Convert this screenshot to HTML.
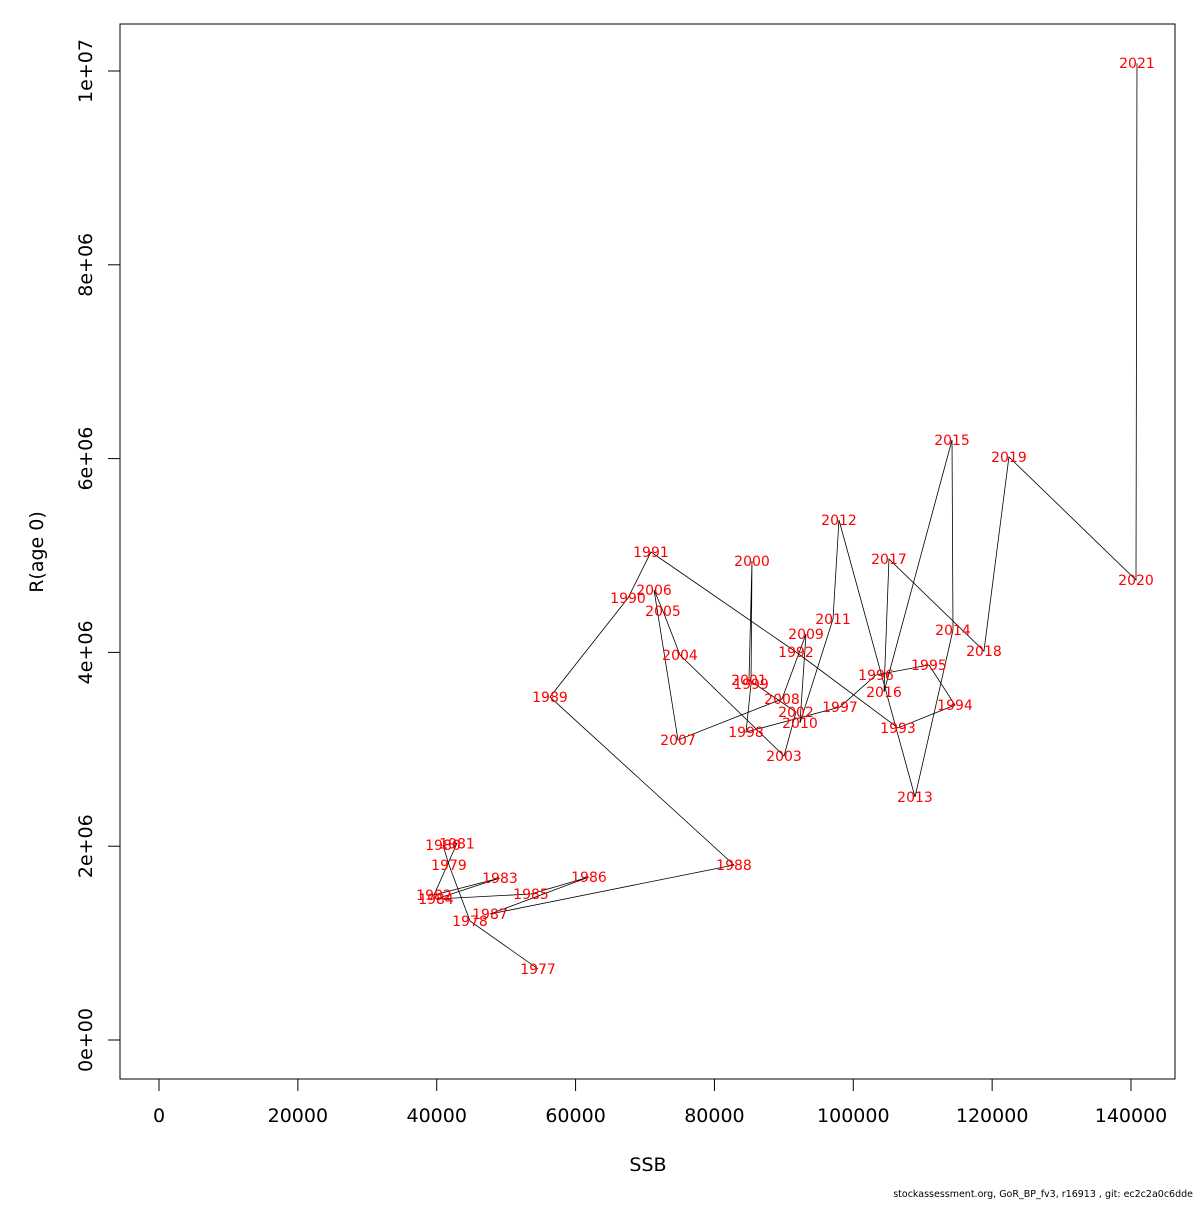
<!DOCTYPE html>
<html><head><meta charset="utf-8"><style>
body{margin:0;background:#fff}
text{font-family:"DejaVu Sans","Liberation Sans",sans-serif}
</style></head><body>
<svg id="chart" width="1200" height="1200">
<rect x="0" y="0" width="1200" height="1200" fill="#fff"/>
<rect x="120" y="24" width="1055" height="1055" fill="none" stroke="#000" stroke-width="1"/>
<g id="axes"></g>
<polyline id="path" fill="none" stroke="#000" stroke-width="0.8"/>
<g id="labels"></g>
<text x="648" y="1171" font-size="19" text-anchor="middle">SSB</text>
<text x="43" y="552" font-size="19" text-anchor="middle" transform="rotate(-90 43 552)">R(age 0)</text>
<text x="1193" y="1197" font-size="9.5" text-anchor="end">stockassessment.org, GoR_BP_fv3, r16913 , git: ec2c2a0c6dde</text>
</svg>
<script>
const years=[1977,1978,1979,1980,1981,1982,1983,1984,1985,1986,1987,1988,1989,1990,1991,1992,1993,1994,1995,1996,1997,1998,1999,2000,2001,2002,2003,2004,2005,2006,2007,2008,2009,2010,2011,2012,2013,2014,2015,2016,2017,2018,2019,2020,2021];
const ssb=[54590,44790,41770,40900,42920,39610,49110,39900,53580,61930,47670,82820,56310,67550,70860,91750,106440,114650,110900,103270,98080,84550,85270,85410,84980,91750,90020,75040,72590,71300,74750,89730,93190,92320,97080,97940,108890,114360,114220,104420,105140,118820,122420,140720,140860];
const rec=[733e3,1228e3,1806e3,2010e3,2030e3,1496e3,1672e3,1455e3,1507e3,1682e3,1300e3,1806e3,3540e3,4561e3,5036e3,4004e3,3220e3,3457e3,3870e3,3767e3,3437e3,3178e3,3674e3,4943e3,3715e3,3385e3,2931e3,3973e3,4427e3,4644e3,3096e3,3519e3,4190e3,3271e3,4345e3,5366e3,2508e3,4231e3,6192e3,3591e3,4964e3,4014e3,6017e3,4747e3,10080e3];
const xTicks=[0,20000,40000,60000,80000,100000,120000,140000];
const yTicks=[0,2e6,4e6,6e6,8e6,1e7];
const yTickLabels=["0e+00","2e+06","4e+06","6e+06","8e+06","1e+07"];
const NS="http://www.w3.org/2000/svg";
function X(v){return 159+v*(972/140000);}
function Y(v){return 1040-v*(969/1e7);}
const axes=document.getElementById('axes');
function mk(tag,attrs,parent){const e=document.createElementNS(NS,tag);for(const k in attrs)e.setAttribute(k,attrs[k]);parent.appendChild(e);return e;}
mk('line',{x1:X(0),x2:X(140000),y1:1079,y2:1079,stroke:'#000'},axes);
xTicks.forEach(t=>{
  const l=mk('line',{x1:X(t),x2:X(t),y1:1079,y2:1091,stroke:'#000'},axes);
  
  
  const tx=mk('text',{x:X(t),y:1122,'font-size':19,'text-anchor':'middle'},axes);
  tx.textContent=t;
  
  
});
mk('line',{x1:120,x2:120,y1:Y(0),y2:Y(1e7),stroke:'#000'},axes);
yTicks.forEach((t,i)=>{
  const l=mk('line',{x1:108,x2:120,y1:Y(t),y2:Y(t),stroke:'#000'},axes);
  
  
  const tx=mk('text',{x:92,y:Y(t),'font-size':19,'text-anchor':'middle',transform:`rotate(-90 92 ${Y(t)})`},axes);
  tx.textContent=yTickLabels[i];
  
  
});
document.getElementById('path').setAttribute('points',years.map((y,i)=>X(ssb[i])+','+Y(rec[i])).join(' '));
const lg=document.getElementById('labels');
years.forEach((yr,i)=>{
  const t=mk('text',{x:X(ssb[i]),y:Y(rec[i])+5,'font-size':14,'text-anchor':'middle',fill:'#ff0000'},lg);
  t.textContent=yr;
  
  
});
</script>
</body></html>
